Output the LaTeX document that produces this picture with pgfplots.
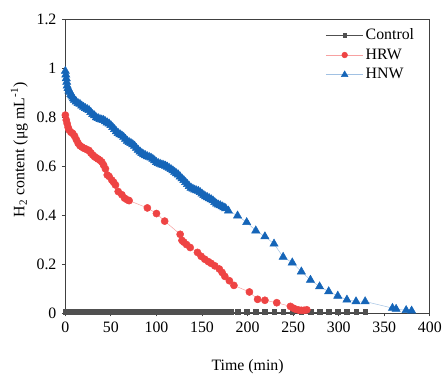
\documentclass[border=0pt]{standalone}
\usepackage{pgfplots}
\pgfplotsset{compat=1.18}
\usepackage{fontspec}
\setmainfont{Liberation Serif}
\definecolor{ctrl}{HTML}{505050}
\definecolor{hrw}{HTML}{EE4444}
\definecolor{hnw}{HTML}{1565B8}
\definecolor{axgray}{HTML}{404040}
\begin{document}
\fontsize{16bp}{19bp}\selectfont
\begin{tikzpicture}
\begin{axis}[
  name=ax,
  scale only axis,
  width=368bp, height=296bp,
  xmin=0, xmax=400, ymin=0, ymax=1.2,
  xtick={0,50,...,400},
  ytick={0,0.2,0.4,0.6,0.8,1,1.2},
  tick pos=left,
  tick align=outside,
  major tick length=3.5bp,
  axis line style={axgray, line width=0.9bp},
  every tick/.style={axgray, line width=0.9bp},
  tick label style={font=\fontsize{16bp}{19bp}\selectfont},
  label style={font=\fontsize{16bp}{19bp}\selectfont},
  /pgf/number format/assume math mode=true,
  xlabel={Time (min)},
  ylabel={H\textsubscript{2} content (μg mL\textsuperscript{-1})},
  xlabel style={yshift=-16bp},
  ylabel style={at={(ticklabel cs:0.557)}, yshift=-2bp},
  legend style={draw=none, fill=none, at={(0.971,0.985)}, anchor=north east,
    font=\fontsize{16bp}{19bp}\selectfont, row sep=3bp},
  legend cell align=left,
  legend image code/.code={
    \draw[#1, every mark/.append style={scale=0.8}, mark repeat=2, mark phase=2] plot coordinates {(-8bp,0bp) (11bp,0bp) (30bp,0bp)};
  },
]
\addplot[ctrl, line width=0.4bp, mark=square*, mark size=2.3bp, mark options={ctrl}]
coordinates {
(0,0.005)(2,0.005)(4,0.005)(6,0.005)(8,0.005)(10,0.005)(12,0.005)(14,0.005)(16,0.005)(18,0.005)
(20,0.005)(22,0.005)(24,0.005)(26,0.005)(28,0.005)(30,0.005)(32,0.005)(34,0.005)(36,0.005)(38,0.005)
(40,0.005)(42,0.005)(44,0.005)(46,0.005)(48,0.005)(50,0.005)(52,0.005)(54,0.005)(56,0.005)(58,0.005)
(60,0.005)(62,0.005)(64,0.005)(66,0.005)(68,0.005)(70,0.005)(72,0.005)(74,0.005)(76,0.005)(78,0.005)
(80,0.005)(82,0.005)(84,0.005)(86,0.005)(88,0.005)(90,0.005)(92,0.005)(94,0.005)(96,0.005)(98,0.005)
(100,0.005)(102,0.005)(104,0.005)(106,0.005)(108,0.005)(110,0.005)(112,0.005)(114,0.005)(116,0.005)(118,0.005)
(120,0.005)(122,0.005)(124,0.005)(126,0.005)(128,0.005)(130,0.005)(132,0.005)(134,0.005)(136,0.005)(138,0.005)
(140,0.005)(142,0.005)(144,0.005)(146,0.005)(148,0.005)(150,0.005)(152,0.005)(154,0.005)(156,0.005)(158,0.005)
(160,0.005)(162,0.005)(164,0.005)(166,0.005)(168,0.005)(170,0.005)(172,0.005)(174,0.005)(176,0.005)(178,0.005)
(180,0.005)(182,0.005)
(189,0.005)(199,0.005)(209,0.005)(219,0.005)(229,0.005)(239,0.005)(249,0.005)(259,0.005)(269,0.005)
(279,0.005)(289,0.005)(299,0.005)(309,0.005)(319,0.005)(329,0.005)
};
\addlegendentry{Control}
\addplot[hrw!50, line width=0.5bp, mark=*, mark size=3.6bp, mark options={hrw, draw=hrw}]
coordinates {
(0,0.81)(1,0.79)(2,0.775)(3,0.76)(4,0.75)(6,0.74)(8,0.735)(10,0.725)(12,0.71)(14,0.695)
(16,0.685)(18,0.68)(20,0.675)(22,0.672)(24,0.668)(26,0.665)(28,0.655)(30,0.647)(32,0.64)
(34,0.635)(36,0.63)(38,0.625)(40,0.618)(42,0.605)(44,0.59)(46,0.565)(48,0.559)(51,0.544)
(53,0.535)(55,0.524)(58,0.497)(62,0.484)(65,0.47)(68,0.463)(70,0.46)
(90,0.43)(100,0.407)(109,0.376)(126,0.322)(128,0.297)(130,0.29)(133,0.28)(137,0.268)
(145,0.248)(149,0.232)(153,0.22)(157,0.21)(160,0.203)(164,0.193)(169,0.18)(172,0.166)
(175,0.15)(180,0.132)(185,0.113)(202,0.086)(211,0.056)(219,0.052)(232,0.042)
(247,0.027)(250,0.02)(253,0.015)(256,0.012)(259,0.011)(262,0.011)(265,0.013)
};
\addlegendentry{HRW}
\addplot[hnw!40, line width=0.5bp, mark=triangle*, mark size=4.8bp, mark options={hnw, draw=hnw}]
coordinates {
(0,0.99)(0.5,0.975)(1,0.96)(1.5,0.945)(2,0.93)(3,0.92)(4,0.91)(5,0.905)(6,0.895)(7,0.89)
(8,0.885)(9,0.878)(10,0.872)(12,0.865)(14,0.858)(16,0.855)(18,0.848)(20,0.843)(22,0.838)
(24,0.834)(26,0.83)(28,0.822)(30,0.813)(32,0.808)(34,0.8)(36,0.797)(38,0.793)(40,0.791)
(42,0.789)(44,0.784)(46,0.779)(48,0.775)(50,0.768)(52,0.76)(54,0.752)(56,0.743)(58,0.736)
(60,0.731)(62,0.726)(64,0.72)(66,0.712)(68,0.704)(70,0.699)(72,0.695)(74,0.69)(76,0.684)
(78,0.675)(80,0.667)(82,0.66)(84,0.654)(86,0.649)(88,0.645)(90,0.641)(92,0.638)(94,0.635)
(96,0.63)(98,0.624)(100,0.617)(102,0.613)(104,0.61)(106,0.607)(108,0.605)(110,0.602)
(112,0.598)(114,0.593)(116,0.588)(118,0.583)(120,0.577)(122,0.571)(124,0.566)(126,0.558)
(128,0.55)(130,0.543)(132,0.535)(134,0.527)(136,0.519)(138,0.512)(140,0.508)(142,0.504)
(144,0.501)(146,0.499)(148,0.494)(150,0.488)(152,0.482)(154,0.477)(156,0.473)(158,0.469)
(160,0.465)(162,0.46)(164,0.453)(166,0.447)(168,0.443)(170,0.44)(172,0.436)(174,0.432)
(176,0.428)(179,0.418)(189,0.398)(199,0.371)(209,0.337)(219,0.313)(229,0.283)(239,0.229)
(249,0.206)(259,0.169)(269,0.135)(279,0.108)(289,0.088)(299,0.07)(309,0.054)(319,0.047)
(329,0.047)(359,0.02)(363,0.016)(374,0.011)(380,0.009)
};
\addlegendentry{HNW}
\coordinate (bl) at (axis description cs:-0.1793,-0.1791);
\coordinate (tr) at (axis description cs:1.0353,1.0676);
\end{axis}
\path (bl) rectangle (tr);
\end{tikzpicture}
\end{document}
